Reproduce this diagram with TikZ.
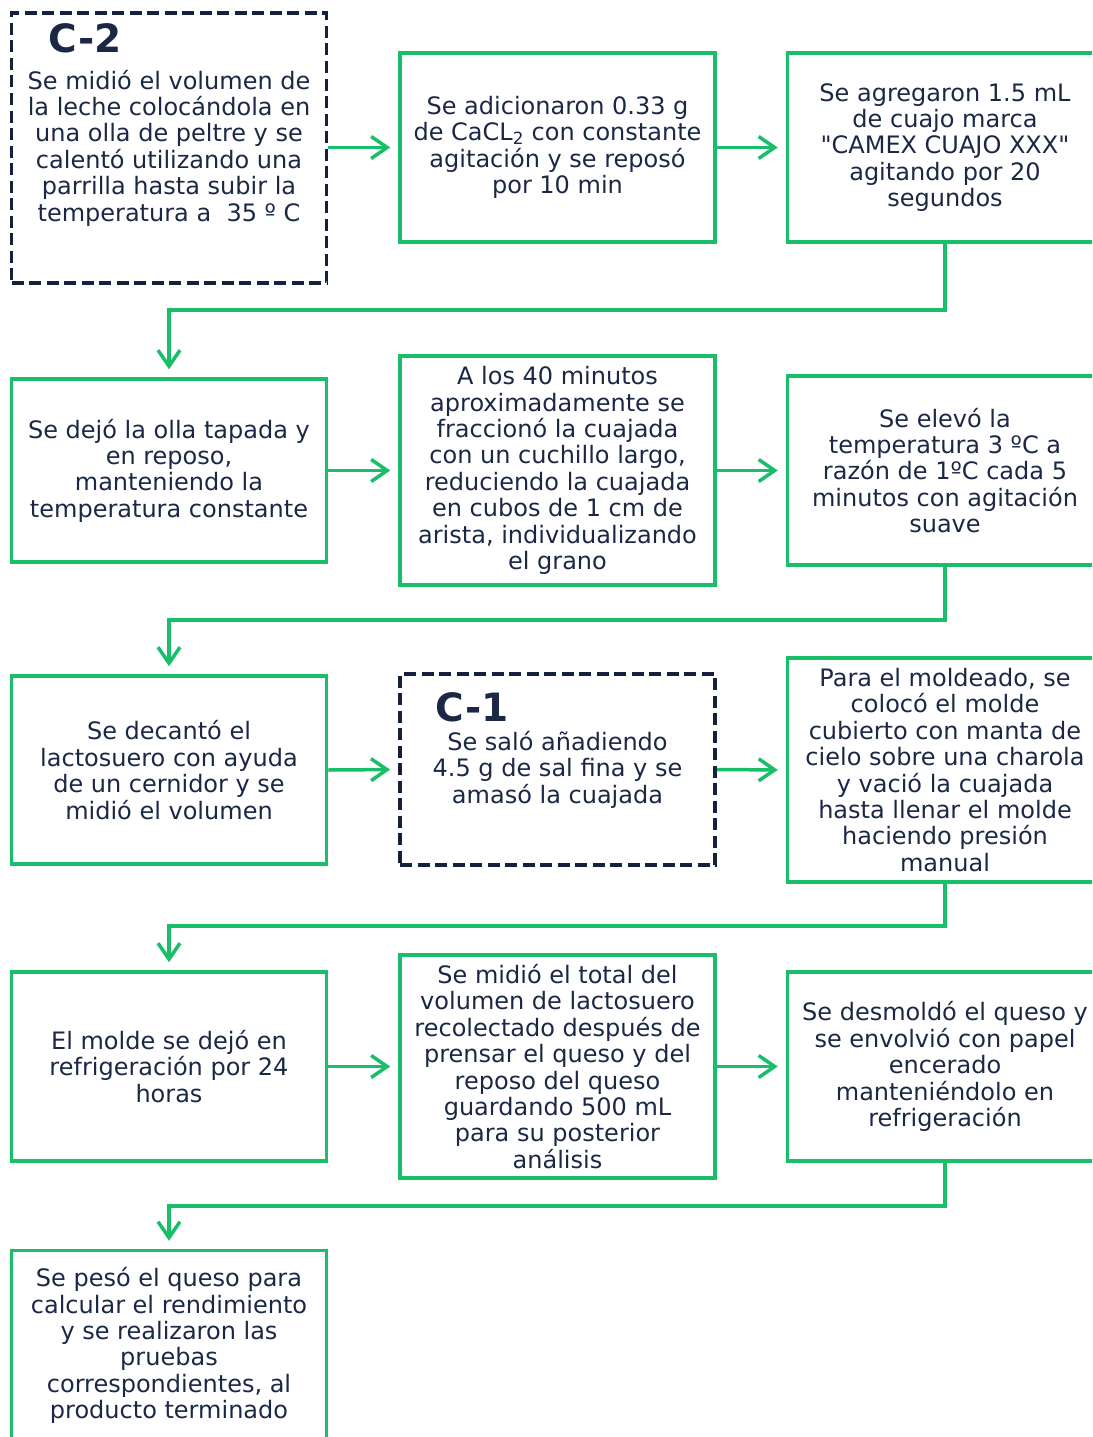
\documentclass[tikz,border=0pt]{standalone}
\usepackage{fontspec}
\setmainfont{DejaVu Sans}[Ligatures=TeXOff]
\usetikzlibrary{arrows.meta}
\definecolor{flowgreen}{RGB}{24,190,104}
\definecolor{textnavy}{RGB}{26,40,70}
\definecolor{edgenavy}{RGB}{20,32,60}
\newcommand{\bodyfont}{\fontsize{24}{26.4}\selectfont}
\newcommand{\titlefont}{\bfseries\fontsize{39}{40}\selectfont}
\tikzset{
  stepbox/.style={draw=flowgreen, line width=3.5pt, rectangle, inner sep=0pt,
    align=center, text=textnavy, font=\bodyfont, minimum width=315pt},
  checkbox/.style={stepbox, draw=edgenavy, line width=3.8pt, dash pattern=on 12pt off 5.5pt},
  boxtitle/.style={text=textnavy, font=\titlefont, inner sep=0pt},
  flow/.style={draw=flowgreen, line width=3.5pt,
    -{Straight Barb[length=16pt,width=22pt]}, shorten >=8pt},
}
\begin{document}
\begin{tikzpicture}[x=1pt,y=-1pt]
\useasboundingbox (0,0) rectangle (1092,1437);
\clip (0,0) rectangle (1092,1437);

% row 1
\node[checkbox, minimum height=270pt] (b1) at (169,148)
  {Se midió el volumen de\\la leche colocándola en\\una olla de peltre y se\\calentó utilizando una\\parrilla hasta subir la\\temperatura a\ \ 35 º C};
\node[boxtitle] (t1) at (85,38) {C-2};
\node[stepbox, minimum height=189pt] (b2) at (557.5,147.5)
  {Se adicionaron 0.33 g\\de CaCL\textsubscript{2} con constante\\agitación y se reposó\\por 10 min};
\node[stepbox, minimum height=189pt] (b3) at (945,147.5)
  {Se agregaron 1.5 mL\\de cuajo marca\\"CAMEX CUAJO XXX"\\agitando por 20\\segundos};

% row 2
\node[stepbox, minimum height=183pt] (b4) at (169,470.5)
  {Se dejó la olla tapada y\\en reposo,\\manteniendo la\\temperatura constante};
\node[stepbox, minimum height=229pt] (b5) at (557.5,470.5)
  {A los 40 minutos\\aproximadamente se\\fraccionó la cuajada\\con un cuchillo largo,\\reduciendo la cuajada\\en cubos de 1 cm de\\arista, individualizando\\el grano};
\node[stepbox, minimum height=189pt] (b6) at (945,470.5)
  {Se elevó la\\temperatura 3 ºC a\\razón de 1ºC cada 5\\minutos con agitación\\suave};

% row 3
\node[stepbox, minimum height=188pt] (b7) at (169,770)
  {Se decantó el\\lactosuero con ayuda\\de un cernidor y se\\midió el volumen};
\node[checkbox, minimum height=191pt] (b8) at (557.5,769.5)
  {Se saló añadiendo\\4.5 g de sal fina y se\\amasó la cuajada};
\node[boxtitle] (t8) at (472,707) {C-1};
\node[stepbox, minimum height=224pt] (b9) at (945,770)
  {Para el moldeado, se\\colocó el molde\\cubierto con manta de\\cielo sobre una charola\\y vació la cuajada\\hasta llenar el molde\\haciendo presión\\manual};

% row 4
\node[stepbox, minimum height=189pt] (b10) at (169,1066.5)
  {El molde se dejó en\\refrigeración por 24\\horas};
\node[stepbox, minimum height=223pt] (b11) at (557.5,1066.5)
  {Se midió el total del\\volumen de lactosuero\\recolectado después de\\prensar el queso y del\\reposo del queso\\guardando 500 mL\\para su posterior\\análisis};
\node[stepbox, minimum height=189pt] (b12) at (945,1066.5)
  {Se desmoldó el queso y\\se envolvió con papel\\encerado\\manteniéndolo en\\refrigeración};

% row 5
\node[stepbox, minimum height=190pt] (b13) at (169,1345.5)
  {Se pesó el queso para\\calcular el rendimiento\\y se realizaron las\\pruebas\\correspondientes, al\\producto terminado};

% horizontal steps
\draw[flow] (b1.east |- b2.west) -- (b2.west);
\draw[flow] (b2.east) -- (b3.west);
\draw[flow] (b4.east) -- (b5.west);
\draw[flow] (b5.east) -- (b6.west);
\draw[flow] (b7.east) -- (b8.west);
\draw[flow] (b8.east) -- (b9.west);
\draw[flow] (b10.east) -- (b11.west);
\draw[flow] (b11.east) -- (b12.west);

% returns to the next row
\draw[flow] (b3.south) -- (b3.south |- 0,310) -| (b4.north);
\draw[flow] (b6.south) -- (b6.south |- 0,620) -| (b7.north);
\draw[flow] (b9.south) -- (b9.south |- 0,926) -| (b10.north);
\draw[flow] (b12.south) -- (b12.south |- 0,1206) -| (b13.north);
\end{tikzpicture}
\end{document}
